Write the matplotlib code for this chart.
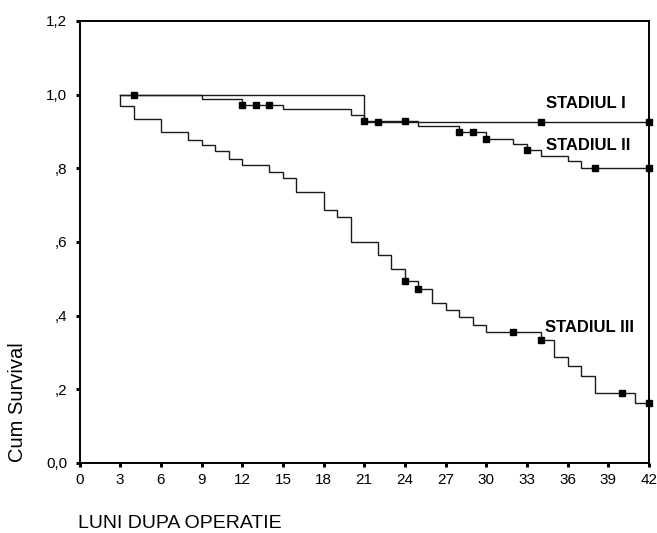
import numpy as np
import matplotlib
matplotlib.use("Agg")
import matplotlib.pyplot as plt
from matplotlib.ticker import FuncFormatter

# ---- data ----
start_month = 3
end_month = 42

st1_times = [21]
st1_surv = [0.927]
st1_censored = [4, 22, 34, 42]

st2_times = [9, 12, 15, 20, 21, 25, 28, 30, 32, 33, 34, 36, 37]
st2_surv = [0.988, 0.973, 0.960, 0.946, 0.928, 0.914, 0.899, 0.880, 0.865,
            0.850, 0.834, 0.819, 0.802]
st2_censored = [12, 13, 14, 21, 24, 28, 29, 30, 33, 38, 42]

st3_times = [3, 4, 6, 8, 9, 10, 11, 12, 14, 15, 16, 18, 19, 20, 22, 23, 24, 25,
             26, 27, 28, 29, 30, 34, 35, 36, 37, 38, 41]
st3_surv = [0.968, 0.934, 0.898, 0.876, 0.862, 0.847, 0.826, 0.810, 0.790,
            0.775, 0.737, 0.686, 0.667, 0.599, 0.564, 0.527, 0.493, 0.472,
            0.434, 0.416, 0.396, 0.376, 0.357, 0.334, 0.287, 0.262, 0.237,
            0.189, 0.162]
st3_censored = [24, 25, 32, 34, 40, 42]

labels = ["STADIUL I", "STADIUL II", "STADIUL III"]
label_pos = [(34.4, 0.977), (34.4, 0.863), (34.3, 0.369)]

x_ticks = list(range(0, 43, 3))
y_ticks = [0.0, 0.2, 0.4, 0.6, 0.8, 1.0, 1.2]
x_label = "LUNI DUPA OPERATIE"
y_label = "Cum Survival"

# ---- figure ----
plt.rcParams['font.family'] = ['Liberation Sans', 'DejaVu Sans']
fig = plt.figure(figsize=(6.57, 5.33), dpi=100)
W, H = 657, 533
left, right, top, bottom = 79.5, 649, 21, 463
ax = fig.add_axes([left / W, 1 - bottom / H, (right - left) / W, (bottom - top) / H])

line_color = "#1a1a1a"


def surv_at(times, surv, t):
    idx = np.searchsorted(np.asarray(times), t, side="right") - 1
    return 1.0 if idx < 0 else surv[idx]


for times, surv, cens in [(st1_times, st1_surv, st1_censored),
                          (st2_times, st2_surv, st2_censored),
                          (st3_times, st3_surv, st3_censored)]:
    xs = [start_month] + list(times) + [end_month]
    ys = [1.0] + list(surv) + [surv[-1]]
    ax.step(xs, ys, where="post", color=line_color, lw=1.0, solid_joinstyle="miter")
    cy = [surv_at(times, surv, c) for c in cens]
    ax.plot(cens, cy, ls="none", marker="s", ms=4.6, color="black",
            clip_on=False, zorder=5)

for txt, (tx, ty) in zip(labels, label_pos):
    ax.text(tx, ty, txt, fontsize=12, fontweight="bold", ha="left", va="center",
            color="black")

ax.set_xlim(0, 42)
ax.set_ylim(0, 1.2)
ax.set_xticks(x_ticks)
ax.set_yticks(y_ticks)


def yfmt(v, pos):
    if abs(v) < 1e-9:
        return "0,0"
    s = f"{v:.1f}".replace(".", ",")
    if s.startswith("0"):
        s = s[1:]
    return s


ax.yaxis.set_major_formatter(FuncFormatter(yfmt))
ax.tick_params(axis="both", direction="out", length=2.9, width=2.2,
               color="black", labelsize=11)
ax.tick_params(axis="x", pad=4.3)
ax.tick_params(axis="y", pad=5.8)
for sp in ax.spines.values():
    sp.set_linewidth(1.4)
    sp.set_color("black")

fig.text(17.5 / W, 1 - 402.5 / H, y_label, rotation=90, ha="center",
         va="center", fontsize=14.5)
fig.text(78 / W, 1 - 531.5 / H, x_label, ha="left", va="bottom", fontsize=14)

fig.savefig("out.png", dpi=100, facecolor="white")
